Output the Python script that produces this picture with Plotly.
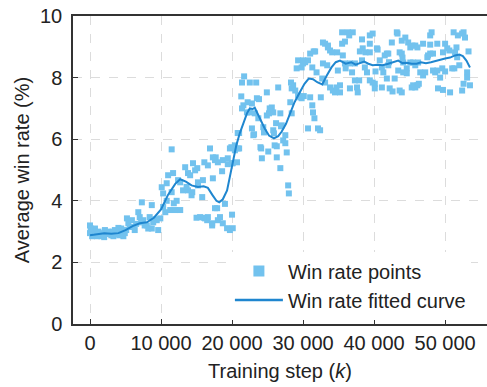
import plotly.graph_objects as go

# Scatter points: training step (k) and win rate (%)
pts_x = [0,0,300,500,700,900,1200,1400,1600,1800,2100,2300,2500,2800,3000,3200,3500,3700,3900,4200,4400,4600,4900,5100,100,1000,2000,3300,4000,4700,
         5200,5400,5600,5900,6100,6300,6800,7000,7300,7500,7700,8000,8200,8400,8700,8700,9200,9400,9600,9900,6500,7200,8900,
         10100,10300,10600,10800,11000,11300,11500,11500,11700,11800,12200,12400,12700,12700,10300,10800,12000,
         13100,13400,13800,13800,14100,14400,14500,14800,15100,15200,15200,15800,15900,16100,16600,16900,14300,13600,
         15500,16200,16500,16600,17200,17200,17600,17900,18000,18300,18700,19000,19300,19700,20000,20100,15000,16000,
         17300,17300,17600,17700,18000,18600,18700,19400,19400,19700,20000,20100,20400,20400,20700,20800,21000,20800,21000,19900,
         21400,21700,22500,23400,21300,21600,21400,22200,22800,22100,22500,23200,23500,23800,22800,23000,23700,24000,24100,24200,
         24400,24500,24900,24900,25200,25100,25600,25800,25800,26000,26200,26300,26500,26300,26800,26900,27000,27200,27500,27700,
         27900,28000,28200,28300,28400,28600,28900,29300,29600,26800,28400,27500,25900,23100,25300,
         29800,30300,29300,30000,29100,30000,30700,31000,31500,31700,31300,31900,32800,33100,33500,33500,33800,34100,34800,32700,
         32800,33400,33100,33800,34200,34500,34700,35200,35200,34900,29800,31000,32500,31300,31400,31600,30700,32100,32400,30100,
         35500,35500,35900,36300,36500,37000,35600,35900,36600,36900,37300,36600,37300,37600,37700,38000,38300,38300,38400,38700,
         39000,38800,39400,39400,39800,39400,39400,39800,40100,40100,40400,40500,40800,41100,41100,41300,41500,41800,42000,41800,
         42000,42200,42500,43200,43300,42900,43400,42600,42100,40200,37900,36000,
         43600,43900,44100,43900,44400,44800,45100,45400,45800,46100,45100,45500,45800,46200,44600,44600,44100,43600,43900,45500,
         45800,46100,46300,45300,46500,46900,46900,47200,47500,47600,47900,48100,47900,47900,48300,48300,48600,48900,48900,49000,
         49300,49600,49700,50000,50300,50600,50700,51000,51300,51200,51400,51700,51600,51800,52400,52600,52800,52400,52600,53100,
         53300,53100,53500,52000,50000,49700,44000]
pts_y = [3.2,2.95,2.85,3.05,3.1,2.9,3.0,2.95,2.85,2.9,3.05,2.92,3.0,2.95,2.88,3.0,3.05,2.9,2.95,2.88,3.1,2.98,2.95,3.05,3.1,2.85,2.82,2.85,3.12,2.85,
         3.43,3.27,3.15,3.37,3.15,3.05,3.63,3.47,3.95,3.37,3.2,3.2,3.1,3.47,3.86,3.1,3.4,3.37,3.05,3.43,3.25,3.3,3.3,
         4.44,3.8,3.63,4.57,4.83,3.7,4.28,5.67,4.9,3.92,4.0,4.67,3.7,4.6,4.24,4.0,3.7,
         4.34,5.09,4.9,4.34,4.83,4.28,5.22,4.99,5.06,4.6,4.5,4.12,4.67,5.25,5.15,5.7,4.18,4.45,
         3.47,3.43,3.37,3.47,3.2,3.27,3.76,3.76,3.37,3.47,3.27,3.9,3.11,3.05,3.55,3.11,3.45,3.45,
         5.41,4.73,5.32,5.41,5.25,4.96,5.32,5.38,5.19,5.7,5.22,5.22,5.64,5.8,5.25,5.7,5.7,6.2,6.2,5.74,
         7.84,8.04,7.84,7.84,7.39,7.1,7.0,7.2,7.16,6.87,6.87,6.84,7.33,7.3,6.35,6.13,6.68,5.74,5.7,5.38,
         6.39,6.22,7.52,6.77,6.84,5.6,7.03,6.87,6.29,5.8,6.52,5.77,7.68,5.41,5.06,6.42,6.45,5.96,5.87,5.57,
         4.5,4.24,7.2,7.84,7.65,7.75,7.58,7.42,7.36,6.84,6.84,6.13,6.19,6.16,7.0,
         8.33,8.5,8.56,8.46,8.3,8.56,8.56,8.78,8.85,8.85,8.33,8.17,9.14,9.1,9.04,8.98,8.88,8.82,8.82,7.97,
         8.46,8.4,7.84,7.68,7.58,7.52,7.68,7.75,7.52,8.23,7.33,7.36,7.36,7.1,6.87,6.68,6.35,6.35,6.29,7.4,
         9.47,9.1,9.17,9.47,9.37,9.47,8.72,8.46,8.46,8.17,8.46,7.65,7.91,7.68,7.52,8.85,9.24,8.56,8.95,8.33,
         8.17,8.82,8.82,9.37,9.43,9.1,7.91,7.84,7.8,7.65,8.95,8.91,8.56,8.33,7.68,8.17,8.72,8.78,8.78,7.97,
         8.4,7.65,9.14,9.47,9.43,7.97,8.23,7.55,8.5,8.2,7.91,8.3,
         8.82,8.78,8.49,9.2,9.3,9.14,8.98,9.04,9.04,8.98,8.49,8.49,8.4,8.49,8.3,8.14,8.17,7.58,7.52,7.75,
         7.68,7.75,7.8,7.68,8.17,9.1,8.07,8.17,8.66,8.72,9.37,9.47,9.07,8.78,8.78,8.23,8.17,8.23,9.1,7.65,
         8.0,8.3,8.82,9.1,8.95,8.88,7.52,8.3,8.3,9.47,8.82,8.66,8.98,9.37,9.43,9.47,9.3,7.58,7.8,8.17,
         8.85,8.0,7.75,8.4,8.2,7.6,8.65]

# Fitted curve
fit_x = [0,1000,2000,3000,4000,5000,6000,7000,8000,9000,10000,11000,12000,12700,13500,14300,15200,16000,16600,17200,
         17800,18200,18700,19300,19700,20100,20600,21100,21600,22100,22500,22900,23200,23500,24000,24600,25200,25900,26500,27000,
         27600,28200,28800,29600,30200,30800,31400,32000,32700,33300,34000,34600,35200,36000,36800,37400,38000,38600,39200,39800,
         40500,41200,42000,42800,43400,44000,44600,45300,46000,46600,47300,48000,48700,49400,50000,50700,51400,52000,52500,53000,53500]
fit_y = [2.88,2.92,2.95,2.93,2.95,3.05,3.18,3.27,3.3,3.45,3.72,4.2,4.55,4.7,4.62,4.5,4.45,4.47,4.42,4.2,
         4.0,3.95,4.05,4.34,4.8,5.3,5.8,6.2,6.55,6.84,7.0,6.98,7.02,6.88,6.6,6.35,6.12,6.03,6.1,6.25,
         6.5,6.85,7.2,7.55,7.8,7.97,7.95,7.85,7.78,8.05,8.33,8.5,8.55,8.45,8.5,8.42,8.48,8.52,8.45,8.4,
         8.42,8.4,8.45,8.5,8.55,8.47,8.48,8.45,8.45,8.5,8.47,8.5,8.55,8.58,8.62,8.65,8.72,8.75,8.7,8.55,8.33]

x_tickvals = [0, 10000, 20000, 30000, 40000, 50000]
x_ticktext = ["0", "10 000", "20 000", "30 000", "40 000", "50 000"]
y_tickvals = [0, 2, 4, 6, 8, 10]

PT_COLOR = "#72c2ee"
LINE_COLOR = "#1f86cf"
FONT = "Liberation Sans, Arial, sans-serif"

fig = go.Figure()
fig.add_trace(go.Scatter(x=pts_x, y=pts_y, mode="markers", showlegend=False,
                         marker=dict(symbol="square", size=6, color=PT_COLOR, line=dict(width=0))))
fig.add_trace(go.Scatter(x=fit_x, y=fit_y, mode="lines", showlegend=False,
                         line=dict(color=LINE_COLOR, width=2)))
# legend entries
fig.add_trace(go.Scatter(x=[None], y=[None], mode="markers", name="Win rate points",
                         marker=dict(symbol="square", size=11, color=PT_COLOR, line=dict(width=0))))
fig.add_trace(go.Scatter(x=[None], y=[None], mode="lines", name="Win rate fitted curve",
                         line=dict(color=LINE_COLOR, width=2.5)))

axis_common = dict(showline=True, linecolor="#333333", linewidth=1.5, automargin=False,
                   ticks="inside", ticklen=5, tickwidth=1, tickcolor="#333333",
                   showgrid=True, gridcolor="#dcdcdc", griddash="dash", gridwidth=1,
                   zeroline=False, tickfont=dict(family=FONT, size=20, color="#222222"),
                   title_font=dict(family=FONT, size=20, color="#222222"))

fig.update_layout(
    width=487, height=387,
    margin=dict(l=73, r=0, t=16, b=63),
    plot_bgcolor="white", paper_bgcolor="white",
    font=dict(family=FONT, size=20, color="#222222"),
    xaxis=dict(range=[-2394, 55900], tickvals=x_tickvals, ticktext=x_ticktext,
               title=dict(text="Training step (<i>k</i>)", standoff=11), mirror=True, **axis_common),
    yaxis=dict(range=[0, 10], tickvals=y_tickvals, ticklabelstandoff=5,
               title=dict(text="Average win rate (%)", standoff=5), **axis_common),
    legend=dict(x=0.379, y=0.235, xanchor="left", yanchor="top", bgcolor="white",
                font=dict(family=FONT, size=20, color="#222222"), itemwidth=48,
                tracegroupgap=0),
)

fig.write_html("out.html", config={"displayModeBar": False},
               post_script="document.body.style.margin='0px';document.body.style.overflow='hidden';")
